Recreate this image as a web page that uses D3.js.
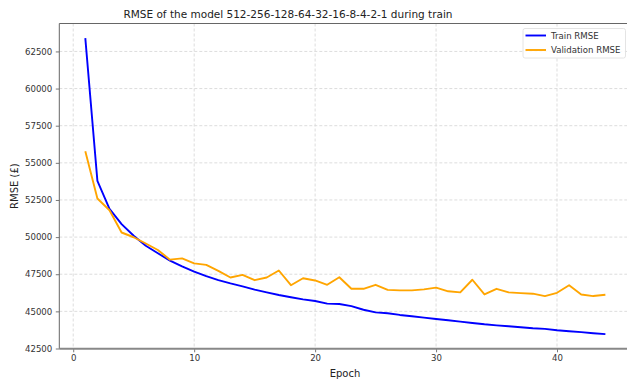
<!DOCTYPE html>
<html><head><meta charset="utf-8">
<script src="https://cdn.jsdelivr.net/npm/d3@7"></script>
<style>
html,body{margin:0;padding:0;background:#fff;overflow:hidden;}
svg{display:block;font-family:"DejaVu Sans",sans-serif;}
</style></head>
<body>
<svg id="chart" width="627" height="380"></svg>
<script>
const epochs = d3.range(1, 45);
const trainRMSE = [63400, 53780, 51900, 50870, 50090, 49420, 48910, 48420, 48030, 47680,
  47370, 47100, 46880, 46680, 46460, 46280, 46100, 45950, 45810, 45700,
  45520, 45500, 45350, 45110, 44930, 44870, 44760, 44670, 44580, 44490,
  44400, 44310, 44220, 44130, 44060, 44000, 43930, 43860, 43820, 43730,
  43660, 43600, 43530, 43470];
const valRMSE = [55780, 52600, 51810, 50310, 49990, 49570, 49130, 48480, 48570, 48230,
  48130, 47730, 47280, 47460, 47100, 47280, 47750, 46760, 47230, 47080,
  46790, 47300, 46520, 46520, 46790, 46450, 46410, 46410, 46480, 46600,
  46350, 46280, 47130, 46140, 46520, 46280, 46230, 46190, 46030, 46250,
  46760, 46140, 46030, 46120];
const xTicks = [0, 10, 20, 30, 40];
const yTicks = [42500, 45000, 47500, 50000, 52500, 55000, 57500, 60000, 62500];
const seriesNames = ["Train RMSE", "Validation RMSE"];
const seriesColors = ["#0000ff", "#ffa500"];
const titleText = "RMSE of the model 512-256-128-64-32-16-8-4-2-1 during train";

const svg = d3.select("#chart");
const L = 59.3, R = 631.4, T = 23.5, B = 348.8;
const x = d3.scaleLinear().domain([-1.15, 46.15]).range([L, R]);
const y = d3.scaleLinear().domain([42480, 64380]).range([B, T]);

// grid
const grid = svg.append("g");
grid.selectAll(".gx").data(xTicks).join("line")
  .attr("x1", d => x(d)).attr("x2", d => x(d)).attr("y1", T).attr("y2", B)
  .attr("stroke", "#d9d9d9").attr("stroke-width", 0.9).attr("stroke-dasharray", "3,2");
grid.selectAll(".gy").data(yTicks).join("line")
  .attr("x1", L).attr("x2", R).attr("y1", d => y(d)).attr("y2", d => y(d))
  .attr("stroke", "#d9d9d9").attr("stroke-width", 0.9).attr("stroke-dasharray", "3,2");

// axes
const xAxis = d3.axisBottom(x).tickValues(xTicks).tickFormat(d3.format("d")).tickSize(3.5).tickPadding(3);
const yAxis = d3.axisLeft(y).tickValues(yTicks).tickFormat(d3.format("d")).tickSize(3.5).tickPadding(3.5);
const gx = svg.append("g").attr("transform", `translate(0,${B})`).call(xAxis);
const gy = svg.append("g").attr("transform", `translate(${L},0)`).call(yAxis);
[gx, gy].forEach(g => {
  g.select(".domain").remove();
  g.selectAll(".tick line").attr("stroke", "#555").attr("stroke-width", 0.8);
  g.selectAll(".tick text").attr("fill", "#333").style("font-size", "8.6px")
    .style("font-family", "DejaVu Sans");
});

// lines
const lineGen = d3.line().x((d, i) => x(epochs[i])).y(d => y(d));
const clip = svg.append("clipPath").attr("id", "clip").append("rect")
  .attr("x", L).attr("y", T).attr("width", R - L).attr("height", B - T);
[trainRMSE, valRMSE].forEach((s, k) => {
  svg.append("path").datum(s).attr("d", lineGen)
    .attr("fill", "none").attr("stroke", seriesColors[k]).attr("stroke-width", 1.9)
    .attr("stroke-linejoin", "round").attr("clip-path", "url(#clip)");
});

// spines
svg.append("line").attr("x1", L).attr("x2", R).attr("y1", T).attr("y2", T).attr("stroke", "#666").attr("stroke-width", 1);
svg.append("line").attr("x1", L).attr("x2", L).attr("y1", T).attr("y2", B).attr("stroke", "#666").attr("stroke-width", 1);
svg.append("line").attr("x1", L).attr("x2", R).attr("y1", B).attr("y2", B).attr("stroke", "#888").attr("stroke-width", 2);

// legend
const lg = svg.append("g");
lg.append("rect").attr("x", 523).attr("y", 28.5).attr("width", 102.5).attr("height", 29.5)
  .attr("rx", 2).attr("fill", "#fff").attr("fill-opacity", 0.85).attr("stroke", "#ddd").attr("stroke-width", 0.8);
seriesNames.forEach((n, i) => {
  const yy = 35.5 + i * 14.5;
  lg.append("line").attr("x1", 525.5).attr("x2", 546).attr("y1", yy).attr("y2", yy)
    .attr("stroke", seriesColors[i]).attr("stroke-width", 1.9);
  lg.append("text").attr("x", 551).attr("y", yy).attr("dy", "0.35em")
    .style("font-size", "8.6px").attr("fill", "#333").text(n);
});

// title and labels
svg.append("text").attr("x", 288).attr("y", 17.5).attr("text-anchor", "middle")
  .style("font-size", "10.5px").attr("fill", "#222").text(titleText);
svg.append("text").attr("x", 345).attr("y", 376.5).attr("text-anchor", "middle")
  .style("font-size", "10px").attr("fill", "#222").text("Epoch");
svg.append("text").attr("transform", `translate(17.5,${(T + B) / 2}) rotate(-90)`)
  .attr("text-anchor", "middle").style("font-size", "10px").attr("fill", "#222").text("RMSE (£)");
</script>
</body></html>
